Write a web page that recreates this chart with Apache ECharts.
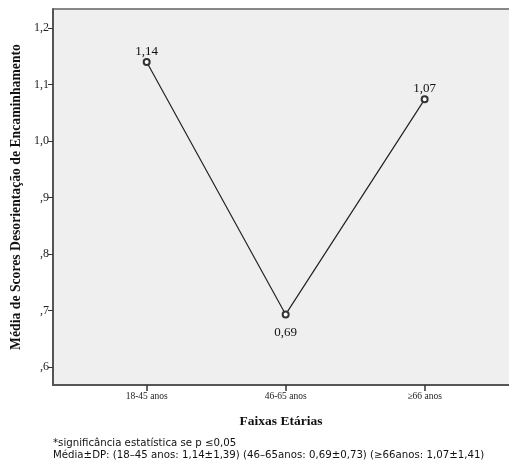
<!DOCTYPE html>
<html><head><meta charset="utf-8">
<script src="https://cdn.jsdelivr.net/npm/echarts@6/dist/echarts.min.js"></script>
<style>html,body{margin:0;padding:0;background:#fff}#c{width:509px;height:463px}</style>
</head><body><div id="c"></div>
<script>
const categories = ['18-45 anos', '46-65 anos', '\u226566 anos'];
const means = [1.14, 0.693, 1.074];
const meanLabels = ['1,14', '0,69', '1,07'];
const yTicks = [0.6, 0.7, 0.8, 0.9, 1.0, 1.1, 1.2];
const yTickLabels = [',6', ',7', ',8', ',9', '1,0', '1,1', '1,2'];
const xAxisTitle = 'Faixas Etárias';
const yAxisTitle = 'Média de Scores Desorientação de Encaminhamento';
const footnotes = ['*significância estatística se p \u22640,05',
  'Média±DP: (18\u201345 anos: 1,14±1,39) (46\u201365anos: 0,69±0,73) (\u226566anos: 1,07±1,41)'];

const chart = echarts.init(document.getElementById('c'));
const serif = '"Liberation Serif", "DejaVu Serif", serif';
chart.setOption({
  animation: false,
  grid: { left: 53, right: 0, top: 9, bottom: 78, show: true, backgroundColor: '#efefef', borderWidth: 0 },
  xAxis: {
    type: 'value', min: -0.674, max: 2.607,
    axisLine: { show: true, onZero: false, lineStyle: { color: '#555', width: 2 } },
    axisTick: { show: true, length: 6, customValues: [0, 1, 2], lineStyle: { color: '#333', width: 1.5 } },
    axisLabel: { customValues: [0, 1, 2], formatter: v => categories[Math.round(v)], fontFamily: serif, fontSize: 9.5, color: '#222', margin: 6 },
    splitLine: { show: false },
    name: xAxisTitle, nameLocation: 'middle', nameGap: 30,
    nameTextStyle: { fontFamily: serif, fontWeight: 'bold', fontSize: 13.5, color: '#111' }
  },
  yAxis: {
    type: 'value', min: 0.568, max: 1.234,
    axisLine: { show: true, onZero: false, lineStyle: { color: '#555', width: 2 } },
    axisTick: { show: true, length: 5, customValues: yTicks, lineStyle: { color: '#333', width: 1 } },
    axisLabel: { customValues: yTicks, formatter: v => yTickLabels[yTicks.findIndex(t => Math.abs(t - v) < 1e-6)], fontFamily: serif, fontSize: 12, color: '#222', margin: 4 },
    splitLine: { show: false },
    name: yAxisTitle, nameLocation: 'middle', nameGap: 29,
    nameTextStyle: { fontFamily: serif, fontWeight: 'bold', fontSize: 13.7, color: '#111' }
  },
  series: [{
    type: 'line',
    symbol: 'emptyCircle', symbolSize: 6,
    lineStyle: { color: '#222', width: 1.2 },
    itemStyle: { color: '#333', borderColor: '#333', borderWidth: 1 },
    label: {
      show: true, fontFamily: serif, fontSize: 13, color: '#111',
      formatter: p => meanLabels[p.dataIndex]
    },
    data: means.map((v, i) => ({ value: [i, v], label: { position: i === 1 ? 'bottom' : 'top', distance: i === 1 ? 8 : 0 } }))
  }],
  graphic: [
    { type: 'line', shape: { x1: 53, y1: 9, x2: 509, y2: 9 }, style: { stroke: '#888', lineWidth: 2 } },
    { type: 'text', left: 53, top: 438, style: { text: footnotes[0], font: '10.2px "DejaVu Sans", sans-serif', fill: '#111' } },
    { type: 'text', left: 53, top: 450, style: { text: footnotes[1], font: '10.2px "DejaVu Sans", sans-serif', fill: '#111' } }
  ]
});
</script></body></html>
